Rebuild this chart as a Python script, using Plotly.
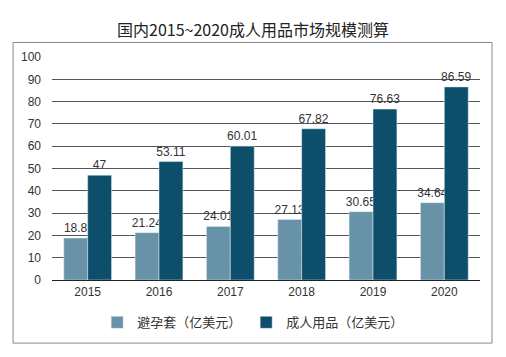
import plotly.graph_objects as go

years = ["2015", "2016", "2017", "2018", "2019", "2020"]
condoms = [18.8, 21.24, 24.01, 27.13, 30.65, 34.64]
adult = [47, 53.11, 60.01, 67.82, 76.63, 86.59]
condom_labels = ["18.8", "21.24", "24.01", "27.13", "30.65", "34.64"]
adult_labels = ["47", "53.11", "60.01", "67.82", "76.63", "86.59"]

label_font = dict(size=12, color="#333333", family="Liberation Sans, Arial")

fig = go.Figure()
fig.add_trace(go.Bar(x=years, y=condoms, name="避孕套（亿美元）", marker_color="#6792A7",
                     text=condom_labels, textposition="outside", cliponaxis=False,
                     constraintext="none", textfont=label_font))
fig.add_trace(go.Bar(x=years, y=adult, name="成人用品（亿美元）", marker_color="#0D4E6B",
                     text=adult_labels, textposition="outside", cliponaxis=False,
                     constraintext="none", textfont=label_font))

fig.update_layout(
    width=506, height=357,
    margin=dict(l=52, r=26, t=57, b=77),
    paper_bgcolor="white", plot_bgcolor="white",
    barmode="group", bargap=0.33, bargroupgap=0,
    uniformtext=dict(minsize=12, mode="show"),
    title=dict(text="国内2015~2020成人用品市场规模测算", x=0.5, xanchor="center", y=0.915, yanchor="middle",
               font=dict(size=16, color="#222222", family="Noto Sans CJK SC")),
    font=dict(family="Liberation Sans, Arial", color="#333333", size=12),
    xaxis=dict(showline=True, linecolor="#222222", linewidth=1.2, ticks="", tickfont=dict(size=12, color="#333333")),
    yaxis=dict(range=[0, 100], dtick=10, showgrid=True, gridcolor="#555555", gridwidth=1,
               zeroline=False, ticks="", tickfont=dict(size=12, color="#333333"), ticklabelstandoff=10),
    legend=dict(orientation="h", x=0.47, xanchor="center", y=-0.19, yanchor="middle",
                font=dict(size=13, color="#333333", family="Noto Sans CJK SC"), itemwidth=30,
                traceorder="normal", tracegroupgap=0),
    showlegend=True,
    shapes=[dict(type="rect", xref="paper", yref="paper", x0=-0.091, x1=1.028, y0=-0.283, y1=1.065,
                 line=dict(color="#888888", width=1), fillcolor="rgba(0,0,0,0)", layer="below")],
)

fig.write_html("out.html", config={"displayModeBar": False},
               post_script="document.body.style.margin='0';")
